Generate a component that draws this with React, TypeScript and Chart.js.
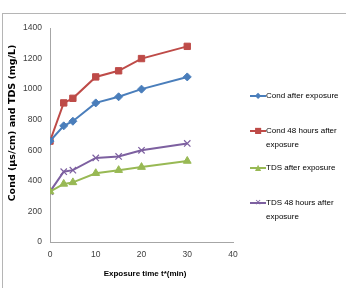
import React, { useEffect, useRef } from "react";
import { Chart, registerables } from "chart.js";

Chart.register(...registerables);

const times = [0, 3, 5, 10, 15, 20, 30];
const condAfter = [660, 760, 790, 910, 950, 1000, 1080];
const cond48 = [660, 910, 940, 1080, 1120, 1200, 1280];
const tdsAfter = [330, 380, 390, 450, 470, 490, 530];
const tds48 = [330, 460, 470, 550, 560, 600, 645];

const seriesNames = [
  "Cond after exposure",
  "Cond 48 hours after exposure",
  "TDS after exposure",
  "TDS 48 hours after exposure",
];
const colors = ["#4a7ebb", "#be4b48", "#98b954", "#7d60a0"];
const pointStyles = ["rectRot", "rect", "triangle", "crossRot"];
const pointRadii = [4, 4.5, 4.5, 4.5];

const yTitle = "Cond (µs/cm) and TDS (mg/L)";
const xTitle = "Exposure time t*(min)";

const tickFont = { family: "'Liberation Sans', sans-serif", size: 8.5 };

export default function App() {
  const ref = useRef<HTMLCanvasElement>(null);
  useEffect(() => {
    document.body.style.margin = "0";
    const allData = [condAfter, cond48, tdsAfter, tds48];
    const titlePlugin = {
      id: "titles",
      afterDraw(chart: any) {
        const ctx = chart.ctx;
        ctx.save();
        ctx.fillStyle = "#000";
        ctx.textAlign = "center";
        ctx.textBaseline = "middle";
        ctx.font = "bold 9.5px 'DejaVu Sans', sans-serif";
        ctx.translate(13, 123);
        ctx.rotate(-Math.PI / 2);
        ctx.fillText(yTitle, 0, 0);
        ctx.restore();
        ctx.save();
        ctx.fillStyle = "#000";
        ctx.textAlign = "center";
        ctx.textBaseline = "middle";
        ctx.font = "bold 8px 'Liberation Sans', sans-serif";
        ctx.fillText(xTitle, 145, 274);
        ctx.restore();
      },
    };
    const chart = new Chart(ref.current!, {
      type: "line",
      data: {
        datasets: allData.map((d, i) => ({
          label: seriesNames[i],
          data: d.map((v, j) => ({ x: times[j], y: v })),
          borderColor: colors[i],
          backgroundColor: colors[i],
          borderWidth: 2,
          pointStyle: pointStyles[i] as any,
          pointRadius: pointRadii[i],
          pointBorderWidth: i === 3 ? 1.2 : 1,
          pointBorderColor: colors[i],
          pointBackgroundColor: colors[i],
          tension: 0,
        })),
      },
      options: {
        animation: false,
        responsive: false,
        layout: { padding: { left: 0, right: 113, top: 28, bottom: 0 } },
        plugins: { legend: { display: false }, tooltip: { enabled: false } },
        scales: {
          x: {
            type: "linear",
            min: 0,
            max: 40,
            ticks: { stepSize: 10, color: "#404040", font: tickFont, padding: 4, callback: (v: any) => String(v) },
            grid: { display: false, drawTicks: true, tickLength: 4, color: "#a6a6a6" },
            border: { color: "#a6a6a6", width: 1 },
            afterFit(s: any) { s.height = 46; },
          },
          y: {
            min: 0,
            max: 1400,
            ticks: { stepSize: 200, color: "#404040", font: tickFont, padding: 4, callback: (v: any) => String(v) },
            grid: { display: false, drawTicks: true, tickLength: 4, color: "#a6a6a6" },
            border: { color: "#a6a6a6", width: 1 },
            afterFit(s: any) { s.width = 50; },
          },
        },
      },
      plugins: [titlePlugin],
    });
    return () => chart.destroy();
  }, []);

  const legendItems = [
    { lines: ["Cond after exposure"], y: 96 },
    { lines: ["Cond 48 hours after", "exposure"], y: 131 },
    { lines: ["TDS after exposure"], y: 168 },
    { lines: ["TDS 48 hours after", "exposure"], y: 203 },
  ];
  const markerShapes = ["◆", "■", "▲", "✕"];

  return (
    <div style={{ position: "relative", width: 346, height: 288, overflow: "hidden", background: "#fff" }}>
      <div style={{ position: "absolute", left: 2, top: 13, width: 400, height: 300, borderTop: "1px solid #b5b5b5", borderLeft: "1px solid #b5b5b5" }} />
      <canvas ref={ref} width={346} height={288} style={{ position: "absolute", left: 0, top: 0 }} />
      {legendItems.map((it, i) => (
        <div key={i}>
          <div style={{ position: "absolute", left: 250, top: it.y - 1, width: 16, height: 2, background: colors[i] }} />
          <div style={{ position: "absolute", left: 253, top: it.y - 5, width: 10, height: 10, color: colors[i], fontSize: 8, lineHeight: "10px", textAlign: "center", fontFamily: "'DejaVu Sans', sans-serif" }}>{markerShapes[i]}</div>
          {it.lines.map((ln, k) => (
            <div key={k} style={{ position: "absolute", left: 266, top: it.y - 6 + k * 14, fontSize: 8, lineHeight: "12px", whiteSpace: "nowrap", color: "#000", fontFamily: "'Liberation Sans', sans-serif" }}>{ln}</div>
          ))}
        </div>
      ))}
    </div>
  );
}
